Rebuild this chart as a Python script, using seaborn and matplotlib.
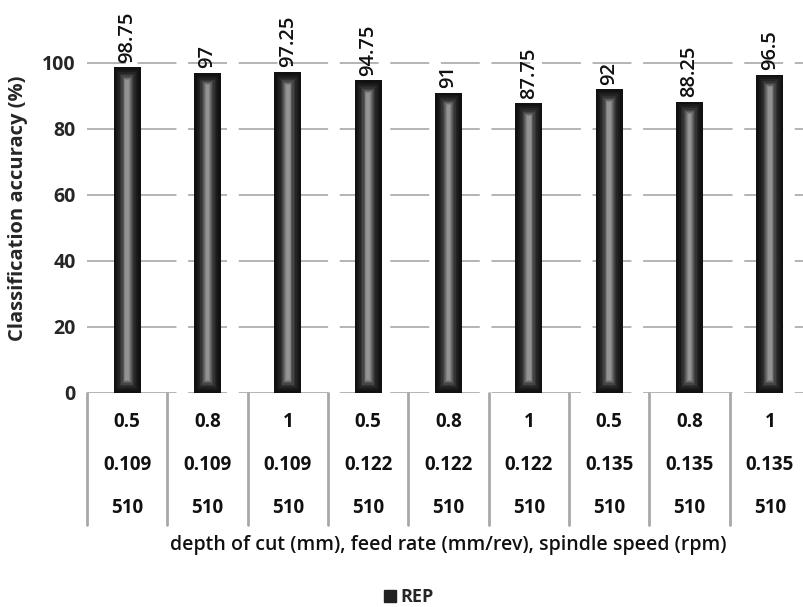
import matplotlib
matplotlib.use("Agg")
import matplotlib.pyplot as plt
import seaborn as sns
import pandas as pd
from matplotlib.lines import Line2D

depth = ["0.5", "0.8", "1", "0.5", "0.8", "1", "0.5", "0.8", "1"]
feed = ["0.109", "0.109", "0.109", "0.122", "0.122", "0.122", "0.135", "0.135", "0.135"]
speed = ["510"] * 9
accuracy = [98.75, 97, 97.25, 94.75, 91, 87.75, 92, 88.25, 96.5]
value_labels = ["98.75", "97", "97.25", "94.75", "91", "87.75", "92", "88.25", "96.5"]
yticks = [0, 20, 40, 60, 80, 100]

sns.set_theme(style="white")
plt.rcParams['font.family'] = ['Open Sans', 'DejaVu Sans']

df = pd.DataFrame({"cat": [f"{d}|{f}|{s}|{i}" for i, (d, f, s) in enumerate(zip(depth, feed, speed))],
                   "acc": accuracy})

W, H = 804, 607
fig = plt.figure(figsize=(W / 100, H / 100), dpi=100)
ax_left, ax_right = 87, 810
y0_px, y100_px = 393, 63
ppu = (y0_px - y100_px) / 100.0
ymax = 112
ax_top = y0_px - ymax * ppu
ax = fig.add_axes([ax_left / W, (H - y0_px) / H, (ax_right - ax_left) / W, (y0_px - ax_top) / H])

sns.barplot(data=df, x="cat", y="acc", color="#111111", width=0.335, ax=ax,
            saturation=1, zorder=3, edgecolor="none")
xs = list(range(len(accuracy)))
# inner glow layers (width, colour, inset in data units)
layers = [(0.27, "#1a1a1a", 0.8), (0.22, "#252525", 1.4), (0.18, "#333333", 2.0),
          (0.145, "#444444", 2.5), (0.115, "#575757", 2.9), (0.09, "#6b6b6b", 3.2),
          (0.068, "#808080", 3.5), (0.048, "#939393", 3.8)]
for w, c, inset in layers:
    ax.bar(xs, [a - 2 * inset for a in accuracy], bottom=inset, width=w, color=c, zorder=4, linewidth=0)

ax.set_xlim(-0.5, len(accuracy) - 0.5)
ax.set_ylim(0, ymax)
ax.set_yticks(yticks)
ax.set_yticklabels([str(t) for t in yticks], fontsize=14, fontweight="bold")
ax.tick_params(axis="y", length=0, pad=8)
ax.set_xticks([])
ax.set_xlabel("")
ax.set_ylabel("Classification accuracy (%)", fontsize=14.5, fontweight="bold", labelpad=10)
for s in ax.spines.values():
    s.set_visible(False)
for t in yticks:
    ax.axhline(t, color="#b4b4b4", lw=1.4, linestyle=(0, (20, 6)), zorder=1)

for x, a, lab in zip(xs, accuracy, value_labels):
    ax.text(x, a + 1.4, lab, rotation=90, ha="center", va="bottom", fontsize=14.5,
            fontweight="semibold", color="#111111", zorder=5)


def px_to_fig_y(py):
    return (H - py) / H


for i in range(len(accuracy) + 1):
    xb = i - 0.5
    ax.plot([xb, xb], [0, -(525 - y0_px) / ppu], color="#a8a8a8", lw=2, clip_on=False, zorder=2)
rows = [(depth, 422), (feed, 465), (speed, 508)]
for vals, py in rows:
    yv = -(py - y0_px) / ppu
    for x, v in zip(xs, vals):
        ax.text(x, yv, v, ha="center", va="center", fontsize=13.5, fontweight="bold",
                color="#111111", clip_on=False)

xmid = (len(accuracy) - 1) / 2
ax.text(xmid, -(545 - y0_px) / ppu, "depth of cut (mm), feed rate (mm/rev), spindle speed (rpm)",
        ha="center", va="center", fontsize=14, fontweight="semibold", color="#111111", clip_on=False)

handle = Line2D([], [], marker="s", color="none", markerfacecolor="#222222",
                markeredgecolor="#222222", markersize=9)
fig.legend([handle], ["REP"], loc="center", bbox_to_anchor=(408 / W, px_to_fig_y(597)),
           frameon=False, prop={"size": 13, "weight": "bold"}, handletextpad=0.2,
           handlelength=0.8)

fig.savefig("out.png", dpi=100)
